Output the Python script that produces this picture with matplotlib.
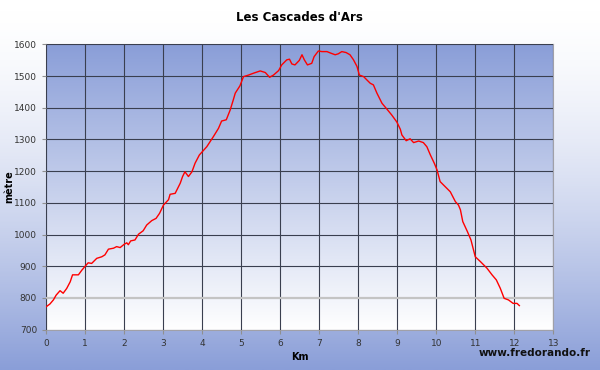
import matplotlib.pyplot as plt
import numpy as np
from matplotlib.colors import LinearSegmentedColormap

# profil altimétrique (km, mètres)
km = [0.0, 0.10, 0.19, 0.26, 0.36, 0.44, 0.53, 0.62, 0.68, 0.83, 0.92, 1.03, 1.08,
      1.17, 1.30, 1.43, 1.51, 1.60, 1.73, 1.81, 1.90, 2.00, 2.07, 2.11, 2.17, 2.28,
      2.37, 2.49, 2.58, 2.71, 2.82, 2.91, 3.01, 3.14, 3.18, 3.31, 3.44, 3.50, 3.56,
      3.65, 3.74, 3.82, 3.93, 4.12, 4.29, 4.42, 4.50, 4.62, 4.72, 4.80, 4.85, 4.97,
      5.06, 5.19, 5.32, 5.49, 5.62, 5.73, 5.83, 5.96, 6.04, 6.17, 6.24, 6.30, 6.38,
      6.49, 6.56, 6.62, 6.70, 6.81, 6.87, 6.98, 7.07, 7.20, 7.30, 7.41, 7.49, 7.58,
      7.69, 7.79, 7.88, 7.97, 8.03, 8.14, 8.22, 8.31, 8.39, 8.48, 8.61, 8.74, 8.86,
      8.99, 9.08, 9.12, 9.23, 9.33, 9.42, 9.55, 9.67, 9.76, 9.85, 9.95, 10.02, 10.10,
      10.23, 10.36, 10.49, 10.57, 10.62, 10.68, 10.80, 10.89, 11.00, 11.13, 11.30,
      11.43, 11.54, 11.64, 11.74, 11.85, 11.97, 12.07, 12.13]
alt = [772, 781, 794, 809, 823, 815, 830, 851, 873, 873, 888, 904, 911,
       909, 925, 930, 936, 954, 957, 962, 959, 969, 974, 968, 980, 983,
       1001, 1012, 1030, 1044, 1051, 1067, 1093, 1110, 1127, 1130, 1162, 1183, 1198,
       1183, 1198, 1225, 1251, 1277, 1309, 1335, 1358, 1362, 1393, 1425, 1446, 1469,
       1498, 1503, 1509, 1516, 1511, 1496, 1503, 1517, 1535, 1551, 1553, 1538, 1535,
       1549, 1567, 1551, 1535, 1540, 1561, 1579, 1577, 1577, 1572, 1567, 1570, 1577,
       1574, 1567, 1551, 1530, 1503, 1498, 1488, 1477, 1472, 1446, 1414, 1395, 1377,
       1355, 1332, 1314, 1296, 1302, 1290, 1295, 1290, 1277, 1251, 1225, 1204, 1167,
       1151, 1135, 1104, 1093, 1078, 1041, 1009, 983, 930, 915, 894,
       873, 857, 831, 799, 794, 783, 783, 776]

bleu = '#8a9ed8'

fig = plt.figure(figsize=(6, 3.7), dpi=100)

# fond de la figure : blanc en haut, bleu en bas
bg = fig.add_axes([0, 0, 1, 1], zorder=-10)
t = np.linspace(0, 1, 256).reshape(-1, 1) ** 1.6
cmap_fig = LinearSegmentedColormap.from_list('fig', ['white', bleu])
bg.imshow(t, aspect='auto', cmap=cmap_fig, extent=[0, 1, 1, 0])
bg.axis('off')

ax = fig.add_axes([46 / 600, 40.3 / 370, 507.3 / 600, 285.4 / 370])
cmap_ax = LinearSegmentedColormap.from_list('ax', ['white', bleu])
g = np.linspace(0, 1, 256).reshape(-1, 1)
ax.imshow(g, aspect='auto', cmap=cmap_ax, extent=[0, 13, 700, 1600],
          origin='lower', zorder=0)

ax.plot(km, alt, color='red', lw=1.0, zorder=3)

ax.set_xlim(0, 13)
ax.set_ylim(700, 1600)
ax.set_xticks(range(0, 14))
ax.set_yticks(range(700, 1601, 100))
ax.grid(True, color='#3a3f4f', lw=0.8, zorder=1)
ax.set_axisbelow(False)
for gl in ax.get_xgridlines() + ax.get_ygridlines():
    gl.set_zorder(1)
ax.get_ygridlines()[1].set_color('#c4c4c4')
ax.get_ygridlines()[1].set_linewidth(1.6)

for s in ax.spines.values():
    s.set_color('#a0a0a8')
ax.tick_params(labelsize=6.5, colors='#333333', length=3, width=0.8)
ax.tick_params(axis='both', color='#909090')

ax.set_title("Les Cascades d'Ars", fontsize=8.5, fontweight='bold', pad=17)
ax.set_xlabel('Km', fontsize=7, fontweight='bold', labelpad=3)
ax.set_ylabel('mètre', fontsize=7, fontweight='bold')
ax.yaxis.set_label_coords(-0.063, 0.5)
fig.text(0.985, 0.045, 'www.fredorando.fr', fontsize=7.5, fontweight='bold',
         ha='right', va='center', color='#111111')

fig.savefig('out.png', dpi=100)
